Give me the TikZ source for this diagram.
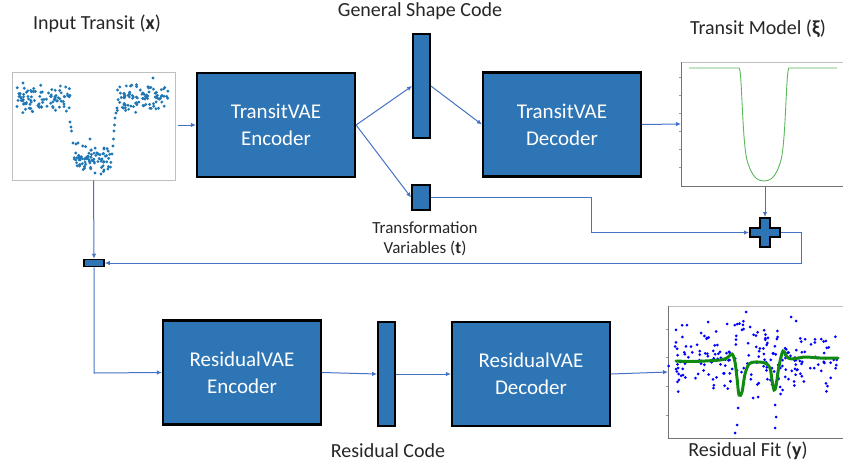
\documentclass[tikz,border=0pt]{standalone}
\usepackage{fontspec}
\setmainfont{Carlito}
\usetikzlibrary{arrows.meta}
\definecolor{boxblue}{HTML}{2E75B6}
\definecolor{linkblue}{HTML}{4472C4}
\definecolor{mplblue}{HTML}{1F77B4}
\definecolor{axisgray}{HTML}{BFBFBF}
\definecolor{curvegreen}{HTML}{5CB85C}
\definecolor{fitgreen}{HTML}{108A10}
\tikzset{
  bigbox/.style={draw=black, line width=2.2pt, fill=boxblue, minimum width=158pt, minimum height=104pt,
    text=white, align=center, font=\fontsize{21}{27}\selectfont, inner sep=0pt},
  codebar/.style={draw=black, line width=1.8pt, fill=boxblue, inner sep=0pt},
  plotbox/.style={draw=axisgray, line width=0.8pt, inner sep=0pt},
  link/.style={draw=linkblue, line width=1pt, -{Latex[length=5pt,width=4.5pt]}},
  heading/.style={font=\fontsize{20}{24}\selectfont, text=black!85},
  small/.style={font=\fontsize{17}{20}\selectfont, text=black!85, align=center},
}
\begin{document}
\begin{tikzpicture}[x=1pt,y=-1pt]
\useasboundingbox (0,0) rectangle (843,466);
% ---------- headings
\node[heading] (tIn) at (97,24) {Input Transit (\textbf{x})};
\node[heading] (tGen) at (420,11) {General Shape Code};
\node[heading] (tTm) at (758,29) {Transit Model (\textbf{ξ})};
\node[small] (tTv) at (425,239) {Transformation\\Variables (\textbf{t})};
\node[heading] (tRc) at (388,451) {Residual Code};
\node[heading] (tRf) at (748,451) {Residual Fit (\textbf{y})};
% ---------- input plot
\node[plotbox, minimum width=163pt, minimum height=108pt] (inplot) at (93.5,126) {};
\pgfmathsetseed{7}
\foreach \i in {1,...,95}{
  \pgfmathsetmacro{\px}{17+53*rnd}
  \pgfmathsetmacro{\py}{98+8*(rand+rand)}
  \fill[mplblue] (\px,\py) circle (1.6);
}
\foreach \i in {1,...,80}{
  \pgfmathsetmacro{\px}{74+38*rnd}
  \pgfmathsetmacro{\py}{158+8*(rand+rand)}
  \fill[mplblue] (\px,\py) circle (1.6);
}
\foreach \i in {1,...,95}{
  \pgfmathsetmacro{\px}{117+51*rnd}
  \pgfmathsetmacro{\py}{97+8*(rand+rand)}
  \fill[mplblue] (\px,\py) circle (1.6);
}
\foreach \p in {(70,122),(71,127),(71.5,131),(73,143),(76,144),(78,143),(112,154),(113,146),(113.5,139),(114,131),(114.5,125),(115,118),(116,113),(117,108),(90,139),(104,148),(153,78),(23,83),(95,173),(101,174)}{
  \fill[mplblue] \p circle (1.6);
}
% ---------- transit model plot
\draw[axisgray, line width=0.8pt] (681,62) -- (843,62);
\draw[black!55, line width=0.8pt] (681,62) -- (681,186) -- (843,186);
\foreach \t in {77,95,113,131,149,167}{ \draw[black!40, line width=0.5pt] (679,\t) -- (681,\t); }
\coordinate (tmW) at (681,124);
\coordinate (tmS) at (765,187);
\draw[curvegreen, line width=0.9pt] (689,68) -- (739,68)
  .. controls (742,68) and (742,140) .. (747,160)
  .. controls (752,178) and (758,181) .. (764,181)
  .. controls (770,181) and (776,178) .. (781,160)
  .. controls (786,140) and (786,68) .. (789,68) -- (837,68);
% ---------- residual fit plot
\draw[axisgray, line width=0.8pt] (668,306) -- (843,306);
\draw[black!55, line width=0.8pt] (668,306) -- (668,438) -- (843,438);
\foreach \t in {329,357,386,415}{ \draw[black!40, line width=0.5pt] (666,\t) -- (668,\t); }
\coordinate (rfW) at (668,372);
\pgfmathsetseed{11}
\foreach \i in {1,...,210}{
  \pgfmathsetmacro{\px}{675+163*rnd}
  \pgfmathsetmacro{\py}{358+22*(rand+0.8*rand)}
  \fill[blue] (\px,\py) circle (1.5);
}
\foreach \p in {(735,433),(737,425),(738,408),(775,428),(776,417),(775,405),(753,398),(758,397),(746,312),(791,317),(796,321),(708,322),(727,324),(750,327),(668.5,366)}{
  \fill[blue] \p circle (1.5);
}
\draw[fitgreen, line width=3pt, line cap=round, dash pattern=on 2.6pt off 0.4pt] plot[smooth, tension=0.5] coordinates {
  (676,361) (690,361.5) (705,361) (720,360) (727,358) (732,354) (735,362) (737,378) (739,395) (742,392)
  (745,374) (749,364) (755,362) (765,363) (770,368) (772,380) (774,390) (776,386) (779,366) (783,351)
  (787,357) (792,359) (805,357) (820,358) (838,358)};
% ---------- main boxes
\node[bigbox] (tenc) at (276,125) {TransitVAE\\Encoder};
\node[bigbox] (tdec) at (562,124.5) {TransitVAE\\Decoder};
\node[bigbox] (renc) at (242,372.5) {ResidualVAE\\Encoder};
\node[bigbox] (rdec) at (531,374) {ResidualVAE\\Decoder};
\node[codebar, minimum width=17pt, minimum height=104pt] (gcode) at (421.5,86) {};
\node[codebar, minimum width=18pt, minimum height=25pt] (tvar) at (421,197.5) {};
\node[codebar, minimum width=17pt, minimum height=104pt] (rcode) at (386.5,374) {};
\node[codebar, line width=1.5pt, minimum width=20pt, minimum height=7pt] (merge) at (94,263) {};
% plus sign
\filldraw[fill=boxblue, draw=black, line width=1.8pt]
  (760,218) -- (770,218) -- (770,228) -- (780,228) -- (780,237) -- (770,237) -- (770,247)
  -- (760,247) -- (760,237) -- (750,237) -- (750,228) -- (760,228) -- cycle;
\coordinate (plusN) at (765,217);
\coordinate (plusW) at (749,232.5);
\coordinate (plusE) at (781,232.5);
% ---------- connectors
\draw[link] (inplot.east |- tenc.west) ++(3,0) -- (tenc.west);
\draw[link] (tenc.east) -- (gcode.west);
\draw[link] (tenc.east) -- (tvar.west);
\draw[link] (gcode.east) -- (tdec.west);
\draw[link] (tdec.east) -- (tmW);
\draw[link] (tmS) -- (plusN);
\draw[link] (tvar.east) -- (591,197.5) -- (591,232.5) -- (plusW);
\draw[link] (plusE) -- (801,232.5) -- (801,263) -- (merge.east);
\draw[link] (inplot.south) -- (merge.north);
\draw[link] (merge.south) -- (94,373) -- (renc.west);
\draw[link] (renc.east) -- (rcode.west);
\draw[link] (rcode.east) -- (rdec.west);
\draw[link] (rdec.east) -- (rfW);
\end{tikzpicture}
\end{document}
